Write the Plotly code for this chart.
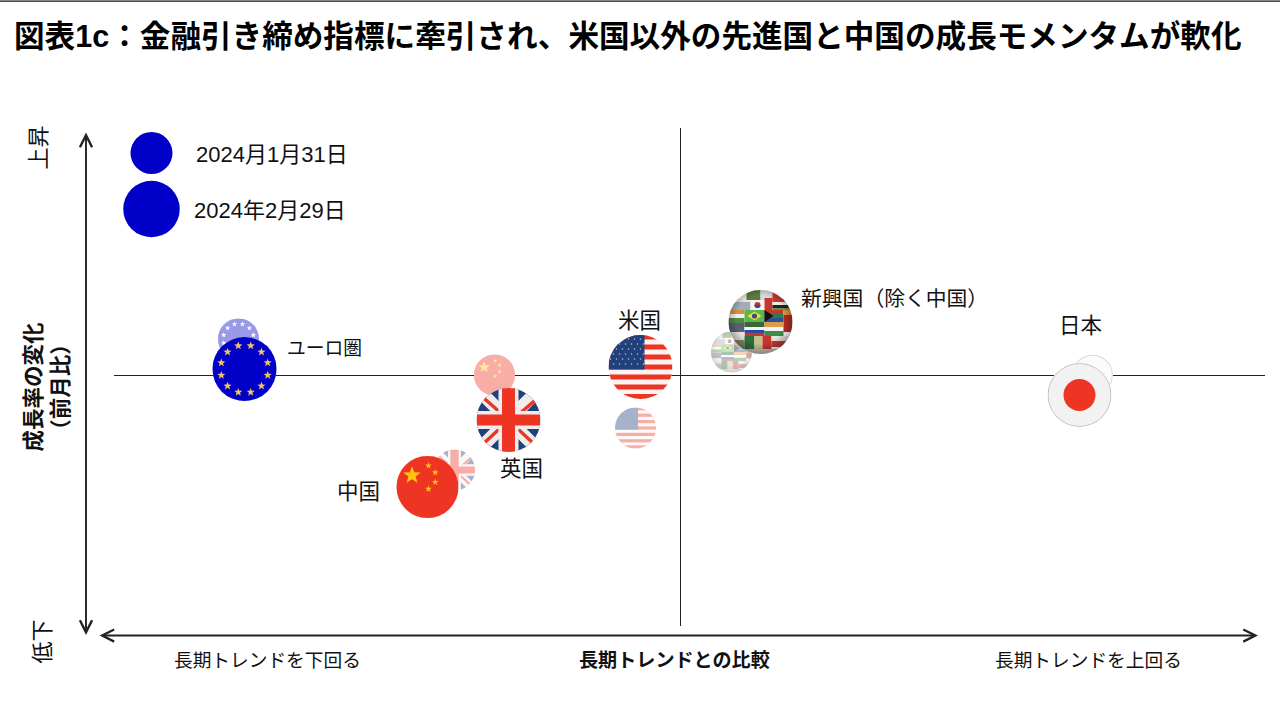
import base64
import math
import plotly.graph_objects as go

# ---------- data (x: vs long-term trend, y: change in growth m/m, arbitrary chart units) ----------
REGIONS = ["ユーロ圏", "英国", "中国", "米国", "新興国", "日本"]
JAN_X = [-4.42, -2.26, -1.86, -0.45, 0.51, 4.12]
JAN_Y = [0.37, -0.94, 0.01, -0.52, 0.24, 0.01]
FEB_X = [-4.36, -1.72, -2.53, -0.40, 0.80, 3.99]
FEB_Y = [0.07, -0.44, -1.11, 0.09, 0.54, -0.19]
REGION_LABELS = ["ユーロ圏", "英国", "中国", "米国", "新興国（除く中国）", "日本"]
LEGEND_LABELS = ["2024月1月31日", "2024年2月29日"]
TITLE = "図表1c：金融引き締め指標に牽引され、米国以外の先進国と中国の成長モメンタムが軟化"
X_AXIS_LABELS = ["長期トレンドを下回る", "長期トレンドとの比較", "長期トレンドを上回る"]
Y_AXIS_TITLE = "成長率の変化<br>（前月比）"
Y_AXIS_ENDS = ["上昇", "低下"]

# ---------- layout constants ----------
W, H = 1280, 720
X_RANGE = [-6.805, 5.995]
Y_RANGE = [-3.44, 3.76]
FONT = "Liberation Sans, Noto Sans CJK JP, sans-serif"
INK = "#111111"
LINE = "#222222"
JAN_SIZE, FEB_SIZE = 41, 64
BLUE = "#0000C8"
RED = "#EE3524"
NAVY = "#21407C"


def dx(px):
    return X_RANGE[0] + px * (X_RANGE[1] - X_RANGE[0]) / W


def dy(py):
    return Y_RANGE[1] - py * (Y_RANGE[1] - Y_RANGE[0]) / H


def star(cx, cy, r, fill):
    pts = []
    for i in range(10):
        a = -math.pi / 2 + i * math.pi / 5
        rr = r if i % 2 == 0 else r * 0.42
        pts.append(f"{cx + rr * math.cos(a):.2f},{cy + rr * math.sin(a):.2f}")
    return f'<polygon points="{" ".join(pts)}" fill="{fill}"/>'


def rect(x, y, w, h, fill):
    return f'<rect x="{x}" y="{y}" width="{w}" height="{h}" fill="{fill}"/>'


def flag_eu(wash):
    s = rect(-32, -32, 64, 64, BLUE)
    for i in range(12):
        a = math.pi / 12 + i * math.pi / 6
        s += star(24 * math.cos(a), 24 * math.sin(a), 4.3, "#FFFFFF" if wash else "#F2C45C")
    return s


def flag_uk(wash):
    s = rect(-32, -32, 64, 64, NAVY)
    s += '<path d="M-34,-34L34,34M34,-34L-34,34" stroke="#EFECEC" stroke-width="13"/>'
    s += f'<path d="M-34,-30L-2,-2M34,-26L6,-2M-32,30L-6,6M32,30L2,2" stroke="{RED}" stroke-width="3.4"/>'
    s += rect(-10, -32, 20, 64, "#EFECEC") + rect(-32, -9, 64, 18, "#EFECEC")
    s += rect(-6.5, -32, 13, 64, RED) + rect(-32, -5.5, 64, 11, RED)
    return s


def flag_cn(wash):
    s = rect(-32, -32, 64, 64, RED)
    s += star(-16, -12, 9.5, "#FFC20E")
    for p in [(1, -22), (8, -15), (8, -5), (1, 2)]:
        s += star(p[0], p[1], 3.6, "#FFC20E")
    return s


def flag_us(wash):
    s = rect(-32, -32, 64, 64, "#FBF3F1")
    for y in [-32.5, -22.5, -12.5, -2.5, 7.5, 17.5, 27]:
        s += rect(-32, y, 64, 5, RED)
    s += rect(-32, -32, 36, 34.5, NAVY)
    if not wash:
        for r_i, y in enumerate(range(-28, 2, 5)):
            for x in range(-30, 4, 6):
                s += f'<circle cx="{x + (3 if r_i % 2 else 0)}" cy="{y}" r="0.8" fill="#AEBBD6"/>'
    return s


def flag_em(wash):
    patches = [
        (-32, -32, 64, 12, "#E8E6E0"), (-14, -32, 14, 10, "#5E7A3E"), (0, -32, 12, 10, "#D8D8D8"),
        (12, -32, 20, 12, "#C43A30"), (-32, -20, 22, 8, "#A2ACBC"), (-10, -22, 14, 10, "#F6F6F6"),
        (4, -24, 8, 12, "#C6362E"), (12, -20, 20, 3, "#EDEBE6"), (12, -17, 20, 3, "#222222"),
        (12, -14, 20, 2, "#5E9A4C"), (-32, -12, 16, 4, "#D88F3E"), (-32, -8, 16, 4, "#F0F0EE"),
        (-32, -4, 16, 5, "#4F8A46"), (-16, -12, 20, 12, "#58B848"), (4, -12, 19, 4, "#C6362E"),
        (4, -8, 19, 4, "#2C7F45"), (4, -4, 19, 4, "#2E4C9A"), (23, -12, 9, 5, "#D9903E"),
        (23, -7, 9, 8, "#B02A24"), (-32, 1, 16, 9, "#5A6070"), (-16, 0, 20, 5, "#39663A"),
        (-16, 5, 20, 3, "#F4F4F4"), (-16, 8, 20, 3, "#2B4AA0"), (-16, 11, 20, 3, "#C6362E"),
        (4, 0, 19, 5, "#DC9A4E"), (4, 5, 19, 4, "#F3F3F0"), (4, 9, 19, 5, "#3F8A48"),
        (23, 1, 9, 9, "#B82B27"), (-32, 10, 16, 8, "#E7E3DC"), (-32, 18, 16, 14, "#7E8C6C"),
        (-16, 14, 10, 13, "#2F6F3C"), (-6, 14, 8, 13, "#C7C28C"), (2, 14, 9, 13, "#C6362E"),
        (11, 14, 21, 5, "#E8E2DC"), (11, 19, 21, 6, "#C03A33"), (-32, 27, 64, 5, "#CFCAC0"),
    ]
    s = "".join(rect(*p) for p in patches)
    s += '<polygon points="4,-12 13,-6 4,0" fill="#111111"/>'
    s += '<polygon points="-13,-6 -6,-10.5 1,-6 -6,-1.5" fill="#F4DC3C"/><circle cx="-6" cy="-6" r="2.6" fill="#34508C"/>'
    s += '<circle cx="-3" cy="-17" r="3" fill="#C6362E"/><path d="M-6,-17a3,3 0 0 0 6,0z" fill="#2B4AA0"/>'
    s += ('<defs><radialGradient id="g" cx="50%" cy="46%" r="52%"><stop offset="72%" stop-color="#000" stop-opacity="0"/>'
          '<stop offset="100%" stop-color="#000" stop-opacity="0.3"/></radialGradient></defs>'
          '<rect x="-32" y="-32" width="64" height="64" fill="url(#g)"/>')
    return s


def flag_jp(wash):
    if wash:
        return '<circle r="31" fill="#F6F6F6" stroke="#999999" stroke-width="1.6"/>'
    return (f'<circle r="31.5" fill="#F2F2F2" stroke="#BDBDBD" stroke-width="1"/>'
            f'<circle r="16" fill="{RED}"/>')


def svg_uri(inner, wash):
    body = f'<circle r="32" fill="#FFFFFF"/><g clip-path="url(#c)"{" opacity=\"0.4\"" if wash else ""}>{inner}</g>'
    svg = (f'<svg xmlns="http://www.w3.org/2000/svg" width="256" height="256" viewBox="-32 -32 64 64">'
           f'<defs><clipPath id="c"><circle r="32"/></clipPath></defs>{body}</svg>')
    return "data:image/svg+xml;base64," + base64.b64encode(svg.encode()).decode()


FLAGS = [flag_eu, flag_uk, flag_cn, flag_us, flag_em, flag_jp]
JAN_COLORS = ["#A0A0E8", "#D8DCE6", "#F8ADA6", "#E8D8DC", "#DDDDD8", "#FAFAFA"]
FEB_COLORS = [BLUE, "#EFECEC", RED, "#F0C8C4", "#7E7E60", "#F2F2F2"]
FEB_SIZES = [FEB_SIZE, FEB_SIZE, 62, FEB_SIZE, FEB_SIZE, FEB_SIZE]

fig = go.Figure()

# Bubbles
fig.add_trace(go.Scatter(x=JAN_X, y=JAN_Y, mode="markers", text=REGIONS, name="2024-01-31",
                         marker=dict(size=JAN_SIZE, color=JAN_COLORS, opacity=1, line=dict(width=0)), showlegend=False))
fig.add_trace(go.Scatter(x=FEB_X, y=FEB_Y, mode="markers", text=REGIONS, name="2024-02-29",
                         marker=dict(size=FEB_SIZES, color=FEB_COLORS, opacity=1, line=dict(width=0)), showlegend=False))

# Legend circles
LEG_X = dx(151.5)
LEG_Y = [dy(153), dy(209)]
fig.add_trace(go.Scatter(x=[LEG_X, LEG_X], y=LEG_Y, mode="markers", showlegend=False,
                         marker=dict(size=[42, 56.5], color=BLUE, opacity=1, line=dict(width=0))))

# Flag faces, scaled in data units
images = []
unit_x = (X_RANGE[1] - X_RANGE[0]) / W
unit_y = (Y_RANGE[1] - Y_RANGE[0]) / H
for i, f in enumerate(FLAGS):
    images.append(dict(source=svg_uri(f(True), True), xref="x", yref="y", x=JAN_X[i], y=JAN_Y[i],
                       sizex=JAN_SIZE * unit_x, sizey=JAN_SIZE * unit_y, xanchor="center", yanchor="middle",
                       sizing="stretch", layer="above"))
for i, f in enumerate(FLAGS):
    images.append(dict(source=svg_uri(f(False), False), xref="x", yref="y", x=FEB_X[i], y=FEB_Y[i],
                       sizex=FEB_SIZES[i] * unit_x, sizey=FEB_SIZES[i] * unit_y, xanchor="center", yanchor="middle",
                       sizing="stretch", layer="above"))

# Cross lines and top rule
shapes = [
    dict(type="line", xref="x", yref="y", x0=dx(114), x1=dx(1265), y0=dy(375.5), y1=dy(375.5), line=dict(color=LINE, width=1), layer="below"),
    dict(type="line", xref="x", yref="y", x0=dx(680.5), x1=dx(680.5), y0=dy(128), y1=dy(626), line=dict(color=LINE, width=1), layer="below"),
    dict(type="line", xref="paper", yref="paper", x0=0, x1=1, y0=1 - 1.2 / H, y1=1 - 1.2 / H, line=dict(color="#111111", width=1.2)),
]


def text(txt, px, py, size, bold=False, angle=0, xanchor="center", color=INK):
    return dict(text=txt, xref="paper", yref="paper", x=px / W, y=1 - py / H, showarrow=False,
                xanchor=xanchor, yanchor="middle", textangle=angle, align="center",
                font=dict(family=FONT, size=size, color=color, weight=700 if bold else 400))


def arrow(x0, y0, x1, y1):
    return dict(x=dx(x1), y=dy(y1), ax=dx(x0), ay=dy(y0), xref="x", yref="y", axref="x", ayref="y", text="",
                showarrow=True, arrowhead=5, startarrowhead=5, arrowside="end+start", arrowsize=1.25,
                startarrowsize=1.25, arrowwidth=1.9, arrowcolor=LINE, standoff=0, startstandoff=0)


LABEL_PX = [(324.5, 348), (521, 469), (358.5, 492), (639.5, 321), (894, 298), (1080, 326)]
LABEL_SIZES = [18.8, 21.5, 21.5, 21.5, 20.8, 21.5]
annotations = [text(l, p[0], p[1], s) for l, p, s in zip(REGION_LABELS, LABEL_PX, LABEL_SIZES)]
annotations += [
    text(LEGEND_LABELS[0], 194, 154, 22, xanchor="left"),
    text(LEGEND_LABELS[1], 192, 210, 22, xanchor="left"),
    text(X_AXIS_LABELS[0], 267.5, 660, 18.7),
    text(X_AXIS_LABELS[1], 674.5, 660, 19.1, bold=True),
    text(X_AXIS_LABELS[2], 1088, 660, 18.7),
    text(Y_AXIS_TITLE, 47.5, 387, 21.5, bold=True, angle=-90),
    text(Y_AXIS_ENDS[0], 38.5, 148, 22, angle=-90),
    text(Y_AXIS_ENDS[1], 41.5, 642, 22, angle=-90),
    arrow(86, 131, 86, 635),
    arrow(98, 635.5, 1258, 635.5),
]

fig.update_layout(
    width=W, height=H, autosize=False, margin=dict(l=0, r=0, t=0, b=0),
    paper_bgcolor="white", plot_bgcolor="white", showlegend=False,
    title=dict(text=TITLE, x=14 / W, xanchor="left", xref="paper", y=1 - 36 / H, yanchor="middle", yref="container",
               font=dict(family=FONT, size=30.6, color="#000000", weight=700)),
    xaxis=dict(range=X_RANGE, visible=False, fixedrange=True),
    yaxis=dict(range=Y_RANGE, visible=False, fixedrange=True),
    images=images, shapes=shapes, annotations=annotations,
)

fig.write_html("out.html", config={"displayModeBar": False},
               post_script="document.body.style.margin='0';document.body.style.background='white';")
